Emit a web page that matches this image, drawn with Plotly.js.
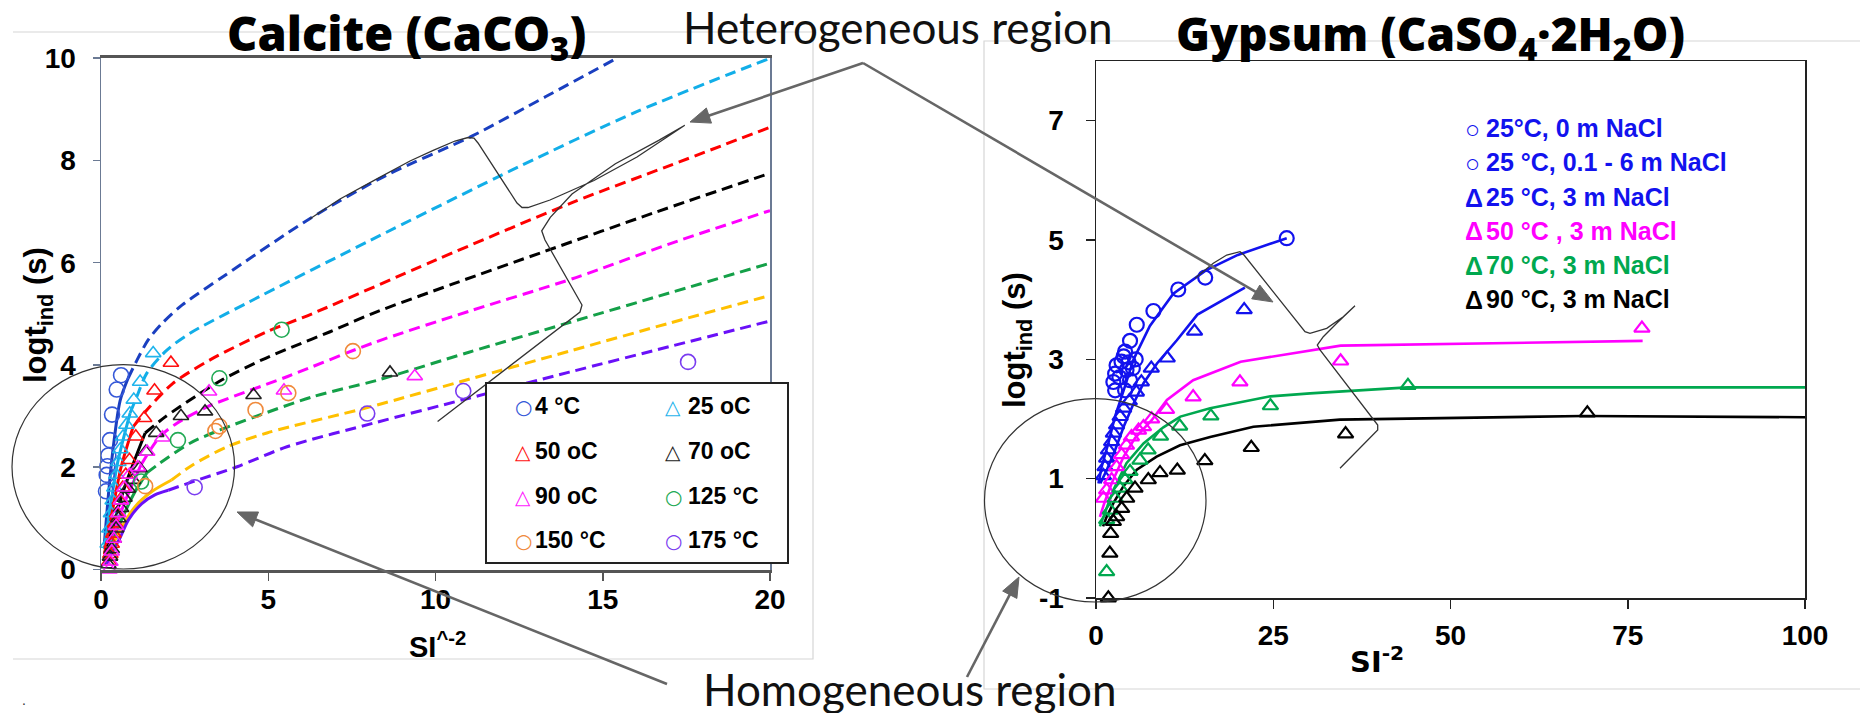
<!DOCTYPE html>
<html><head><meta charset="utf-8">
<script src="https://cdn.plot.ly/plotly-3.0.1.min.js"></script>
<style>html,body{margin:0;padding:0;background:#fff}#chart{width:1860px;height:713px}</style>
</head><body><div id="chart"></div>
<script>
// ---------------- Calcite (left) data ----------------
const calcNames = ['4 °C','25 oC','50 oC','70 oC','90 oC','125 °C','150 °C','175 °C'];
const calcSymbols = ['circle','triangle','triangle','triangle','triangle','circle','circle','circle'];
// measured points
const c4X   = [0.6,0.47,0.33,0.27,0.22,0.19,0.17,0.15];
const c4Y   = [3.8,3.52,3.03,2.53,2.23,2.02,1.85,1.53];
const c25X  = [1.56,1.17,0.98,0.86,0.76,0.66,0.58,0.52,0.46,0.4,0.35,0.3,0.25,0.2];
const c25Y  = [4.23,3.67,3.32,3.05,2.83,2.6,2.35,2.1,1.85,1.6,1.35,1.1,0.8,0.5];
const c50X  = [2.09,1.6,1.29,1.04,0.85,0.74,0.65,0.56,0.48,0.42,0.37,0.32,0.28,0.24];
const c50Y  = [4.04,3.5,2.96,2.6,2.14,1.85,1.6,1.35,1.1,0.9,0.7,0.5,0.3,0.15];
const c70X  = [8.64,4.56,3.11,2.39,1.65,1.34,1.15,0.95,0.8,0.7,0.6,0.52,0.45,0.38,0.32,0.27,0.22];
const c70Y  = [3.85,3.41,3.09,3.0,2.67,2.3,1.98,1.75,1.58,1.4,1.2,1.0,0.8,0.6,0.4,0.25,0.1];
const c90X  = [9.38,5.47,3.23,1.84,1.38,1.1,0.85,0.7,0.6,0.52,0.45,0.38,0.32,0.28,0.25];
const c90Y  = [3.78,3.5,3.48,2.58,2.3,2.0,1.85,1.6,1.35,1.1,0.85,0.6,0.35,0.15,0.0];
const c125X = [5.4,3.54,2.3,1.2];
const c125Y = [4.69,3.74,2.53,1.72];
const c150X = [7.53,5.6,4.62,3.54,3.42,1.32];
const c150Y = [4.27,3.45,3.12,2.8,2.71,1.63];
const c175X = [17.55,10.83,7.96,2.8];
const c175Y = [4.06,3.49,3.05,1.61];
// model curves
const k4X   = [0.1,0.2,0.35,0.57,0.81,1.08,1.41,1.82,2.42,3.7,6.24,8.5,11.07,13.3,15.42];
const k4Y   = [0.5,1.3,2.3,3.3,3.74,4.1,4.49,4.81,5.17,5.75,6.86,7.7,8.47,9.25,10.0];
const k25X  = [0.1,0.25,0.5,0.87,1.07,1.37,1.97,2.66,4.36,8,12.5,16,20];
const k25Y  = [0.4,1.1,2.1,3.06,3.38,3.84,4.29,4.62,5.21,6.42,7.88,8.95,10.0];
const k50X  = [0.1,0.3,0.6,0.96,1.37,2.15,3.26,4.96,6.34,10,14.1,17,20];
const k50Y  = [0.3,1.0,2.0,2.79,3.12,3.64,4.1,4.65,5.01,6.05,7.18,7.9,8.65];
const k70X  = [0.1,0.3,0.7,1.32,1.91,2.81,3.62,4.81,5.71,6.85,8.13,10.5,13.3,16.5,20];
const k70Y  = [0.2,0.7,1.6,2.67,2.98,3.38,3.71,4.1,4.35,4.65,5.01,5.58,6.23,6.97,7.75];
const k90X  = [0.1,0.3,0.7,1.2,1.76,2.27,3.17,5.56,8.13,11,14.2,17,20];
const k90Y  = [0.15,0.55,1.3,2.05,2.6,2.86,3.18,3.77,4.43,5.05,5.71,6.37,7.02];
const k125X = [0.1,0.3,0.6,1.0,1.37,1.76,2.66,3.56,6.34,8.25,11,14,17,20];
const k125Y = [0.1,0.45,0.95,1.5,1.89,2.08,2.47,2.73,3.38,3.7,4.25,4.83,5.41,5.99];
const k150X = [0.2,0.3,0.52,1.02,1.51,2.11,2.75,3.77,4.96,8.04,11,14,17,20];
const k150Y = [0.15,0.4,0.71,1.23,1.52,1.75,2.05,2.4,2.67,3.18,3.72,4.27,4.82,5.36];
const k175X = [0.18,0.3,0.57,0.82,1.22,1.61,2.01,2.75,4.07,5.56,8.13,11,14,17,20];
const k175Y = [0.1,0.3,0.62,0.97,1.29,1.46,1.55,1.72,2.01,2.4,2.86,3.35,3.86,4.36,4.86];
// x where each curve turns from solid (homogeneous) to dashed (heterogeneous)
const kSplit = [0.81,0.87,0.96,1.32,1.2,1.37,2.11,2.01];
const calcXTicks = [0,5,10,15,20];
const calcYTicks = [0,2,4,6,8,10];

// ---------------- Gypsum (right) data ----------------
const gypNames = ['25°C, 0 m NaCl','25 °C, 0.1 - 6 m NaCl','25 °C, 3 m NaCl','50 °C , 3 m NaCl','70 °C, 3 m NaCl','90 °C, 3 m NaCl'];
const gypGlyphs = ['○','○','Δ','Δ','Δ','Δ'];
const gAX  = [26.9,15.4,11.6,8.1,5.75,4.8];
const gAY  = [5.03,4.37,4.17,3.81,3.58,3.31];
const gBX  = [4.1,3.6,2.9,2.7,2.45,2.7,4.3,5.2,4.8,4.1,3.3,5.6,3.9,4.6];
const gBY  = [3.13,2.96,2.9,2.76,2.62,2.48,2.82,2.85,2.65,2.48,2.7,3.0,3.05,2.95];
const g25X = [20.9,13.9,10.05,7.8,6.4,5.7,4.7,3.9,3.4,2.9,2.45,2.2,1.75,1.5,1.27,1.05];
const g25Y = [3.83,3.47,3.02,2.85,2.62,2.45,2.3,2.18,2.04,1.9,1.76,1.62,1.48,1.34,1.2,1.05];
const g50X = [77,34.5,20.3,13.7,9.95,7.85,6.7,6.0,5.0,4.3,3.6,2.9,2.2,1.5,1.05];
const g50Y = [3.52,2.97,2.62,2.37,2.16,2.0,1.87,1.81,1.7,1.56,1.4,1.2,0.98,0.81,0.67];
const g70X = [44,24.6,16.2,11.8,9.1,7.35,6.2,4.8,4.1,3.4,2.7,2.0,1.5,1.5];
const g70Y = [2.56,2.22,2.05,1.88,1.71,1.48,1.31,1.12,0.98,0.84,0.67,0.47,0.31,-0.56];
const g90X = [69.3,35.2,21.9,15.35,11.47,9.03,7.38,5.5,4.33,3.62,2.91,2.45,2.07,1.95,1.74];
const g90Y = [2.1,1.75,1.52,1.3,1.14,1.1,0.98,0.84,0.67,0.5,0.36,0.28,0.08,-0.25,-1.0];
const gLAX = [0.35,0.8,1.75,2.7,3.9,5.3,7.6,10.9,15.5,20,26.9];
const gLAY = [0.92,1.2,1.6,2.05,2.48,3.0,3.56,4.1,4.49,4.75,5.03];
const gLBX = [0.6,1.5,2.7,3.9,5.3,6.7,8.6,11.4,14.3,21];
const gLBY = [0.92,1.14,1.48,1.87,2.26,2.6,2.93,3.32,3.75,4.2];
const gL50X = [0.55,1.2,2.2,3.9,5.5,7.85,10,13.7,20.4,34.5,77.1];
const gL50Y = [0.36,0.6,0.92,1.37,1.68,1.98,2.32,2.65,2.96,3.23,3.31];
const gL70X = [0.55,1.05,2.45,4.3,6.7,9.5,11.9,16.1,24.6,30.2,44,100];
const gL70Y = [0.2,0.36,0.81,1.26,1.59,1.86,2.04,2.18,2.38,2.43,2.53,2.53];
const gL90X = [1.0,1.5,2.45,3.85,5.75,8.55,11.85,16.1,22.2,34.4,68.7,100];
const gL90Y = [0.2,0.36,0.59,0.87,1.15,1.37,1.56,1.7,1.87,1.99,2.05,2.03];
const gypXTicks = [0,25,50,75,100];
const gypYTicks = [-1,1,3,5,7];
const gypYTickText = ['-1','1','3','5','7'];

// ---------------- styling ----------------
const W = 1860, H = 713;
const px = v => v / W, py = v => 1 - v / H;
const ARIAL = 'Liberation Sans, Arial, sans-serif';
const DJ = 'DejaVu Sans, Liberation Sans, sans-serif';
const GILL = 'Lato, Open Sans, sans-serif';
const TITLEF = 'Open Sans, Lato, sans-serif';
const calcMarkerCol = ['#3558d8','#1fb4ec','#ff1010','#222222','#ff20ff','#22aa55','#f08a3c','#7a3cf0'];
const calcLineCol   = ['#1a3fc0','#12aee8','#ff0000','#000000','#ff00ff','#14a048','#ffc000','#6a10f8'];
const gypCol = ['#1212ee','#1212ee','#1212ee','#ff00ff','#00a84f','#000000'];

const calcPts = [[c4X,c4Y],[c25X,c25Y],[c50X,c50Y],[c70X,c70Y],[c90X,c90Y],[c125X,c125Y],[c150X,c150Y],[c175X,c175Y]];
const calcCurves = [[k4X,k4Y],[k25X,k25Y],[k50X,k50Y],[k70X,k70Y],[k90X,k90Y],[k125X,k125Y],[k150X,k150Y],[k175X,k175Y]];

const traces = [];
calcCurves.forEach(([xs, ys], i) => {
  const sx = [], sy = [], dx = [], dy = [];
  xs.forEach((x, j) => {
    if (x <= kSplit[i]) { sx.push(x); sy.push(ys[j]); }
    if (x >= kSplit[i]) { dx.push(x); dy.push(ys[j]); }
  });
  traces.push({x: sx, y: sy, xaxis:'x', yaxis:'y', mode:'lines', line:{color: calcLineCol[i], width:3, shape:'spline', smoothing:0.8}, hoverinfo:'skip', cliponaxis:false});
  traces.push({x: dx, y: dy, xaxis:'x', yaxis:'y', mode:'lines', line:{color: calcLineCol[i], width:3, dash:'11px,6px', shape:'spline', smoothing:0.8}, hoverinfo:'skip'});
});
calcPts.forEach(([xs, ys], i) => {
  traces.push({x: xs, y: ys, xaxis:'x', yaxis:'y', mode:'markers', name: calcNames[i], cliponaxis:false,
    marker:{symbol: calcSymbols[i] === 'circle' ? 'circle-open' : 'triangle-up-open', size: calcSymbols[i] === 'circle' ? 15 : 13.5,
      color: calcMarkerCol[i], line:{width:1.6, color: calcMarkerCol[i]}}});
});

const gypLines = [[gLAX,gLAY,0],[gLBX,gLBY,2],[gL50X,gL50Y,3],[gL70X,gL70Y,4],[gL90X,gL90Y,5]];
gypLines.forEach(([xs, ys, c]) => {
  traces.push({x: xs, y: ys, xaxis:'x2', yaxis:'y2', mode:'lines', line:{color: gypCol[c], width:2.6}, hoverinfo:'skip'});
});
const gypPts = [[gAX,gAY],[gBX,gBY],[g25X,g25Y],[g50X,g50Y],[g70X,g70Y],[g90X,g90Y]];
gypPts.forEach(([xs, ys], i) => {
  const circ = gypGlyphs[i] === '○';
  traces.push({x: xs, y: ys, xaxis:'x2', yaxis:'y2', mode:'markers', name: gypNames[i], cliponaxis:false,
    marker:{symbol: circ ? 'circle-open' : 'triangle-up-open', size: circ ? 14 : 13.5, color: gypCol[i], line:{width:2.2, color: gypCol[i]}}});
});

// ---------------- annotations ----------------
const annotations = [];
function txt(text, x, y, font, extra) {
  annotations.push(Object.assign({text, x: px(x), y: py(y), xref:'paper', yref:'paper', showarrow:false,
    xanchor:'center', yanchor:'middle', font}, extra || {}));
}
// titles
txt('Calcite (CaCO<sub>3</sub>)', 406, 36, {family: TITLEF, size: 47, weight: 800, color:'#000'});
txt('Gypsum (CaSO<sub>4</sub>·2H<sub>2</sub>O)', 1430, 36, {family: TITLEF, size: 46, weight: 800, color:'#000'});
txt('Heterogeneous region', 897, 27, {family: GILL, size: 44, color:'#111'});
txt('Homogeneous region', 910, 689, {family: GILL, size: 44, color:'#111'});
txt('.', 24, 700, {family: ARIAL, size: 14, color:'#333'});
// axis titles
txt('logt<sub>ind</sub> (s)', 38, 315, {family: ARIAL, size: 31, weight:'bold', color:'#000'}, {textangle:-90});
txt('SI<sup>^-2</sup>', 437, 645, {family: ARIAL, size: 29, weight:'bold', color:'#000'});
txt('logt<sub>ind</sub> (s)', 1017, 340, {family: ARIAL, size: 31, weight:'bold', color:'#000'}, {textangle:-90});
txt('SI<sup>-2</sup>', 1377, 660, {family: DJ, size: 29, weight:'bold', color:'#000'});
// left legend
const legRows = [406, 451, 496, 540], legSymX = [523, 673], legTxtX = [533, 686];
calcNames.forEach((n, i) => {
  const r = Math.floor(i / 2), c = i % 2;
  txt(calcSymbols[i] === 'circle' ? '○' : '△', legSymX[c], legRows[r] + 1, {family:'DejaVu Sans', size: 20, color: calcMarkerCol[i]});
  txt(n, legTxtX[c], legRows[r], {family: ARIAL, size: 23, weight:'bold', color:'#000'}, {xanchor:'left'});
});
// right legend (glyph + label, as in the original)
const gLegRows = [128, 162, 196.5, 230.5, 265, 299];
gypNames.forEach((n, i) => {
  txt(gypGlyphs[i], 1463, gLegRows[i] + 1, {family: ARIAL, size: 25, weight:'bold', color: gypCol[i]}, {xanchor:'left'});
  txt(n, 1484, gLegRows[i], {family: ARIAL, size: 25, weight:'bold', color: gypCol[i]}, {xanchor:'left'});
});

// ---------------- shapes ----------------
const shapes = [];
function pline(pts, color, width, fill) {
  shapes.push({type:'path', xref:'paper', yref:'paper', layer:'above',
    path: 'M' + pts.map(p => px(p[0]).toFixed(5) + ',' + py(p[1]).toFixed(5)).join('L') + (fill ? 'Z' : ''),
    line:{color, width}, fillcolor: fill || 'rgba(0,0,0,0)'});
}
function arrowShape(tipX, tipY, tailX, tailY) {
  const dx = tipX - tailX, dy = tipY - tailY, len = Math.hypot(dx, dy);
  const ux = dx / len, uy = dy / len, L = 20, hw = 8;
  const bx = tipX - ux * L, by = tipY - uy * L;
  pline([[tailX, tailY], [bx + ux * 2, by + uy * 2]], '#666', 2.6);
  pline([[tipX, tipY], [bx - uy * hw, by + ux * hw], [bx + uy * hw, by - ux * hw]], '#666', 1, '#666');
}
// light picture frames
pline([[13,32],[813,32],[813,659],[13,659]], '#d6d6d6', 1.2);
pline([[1860,41],[984,41],[984,689],[1860,689]], '#d6d6d6', 1.2);
// homogeneous-region ellipses
shapes.push({type:'circle', xref:'paper', yref:'paper', x0:px(12), x1:px(234.6), y0:py(569), y1:py(364.7), line:{color:'#333', width:1.2}, layer:'above'});
shapes.push({type:'circle', xref:'paper', yref:'paper', x0:px(984.5), x1:px(1206), y0:py(602), y1:py(398.7), line:{color:'#333', width:1.2}, layer:'above'});
// heterogeneous-region braces
pline([[309.7,219],[340,199],[376.9,178.9],[410,161],[433.2,150.4],[455,141],[468,137.5],[474,138],[478,143],[517,203],[522,207.5],[528,207.5],[550,200],[594,180.5],[637,157],[684.8,125.3],
       [658.7,140.4],[615.4,163.8],[572,194],[550.3,217.4],[541.7,230.8],[545,240],[582,305],[580,312],[437.6,421.6]], '#333', 1.3);
pline([[1195,278.3],[1213.3,263.3],[1226.7,255],[1240,251.7],[1244,255],[1305,331.7],[1310,333.3],[1326.7,328.3],[1343.3,316.7],[1355,305.7],
       [1336.7,323.3],[1323.3,336.7],[1317.3,345],[1320,350],[1377.7,425],[1377.7,430],[1340,468.3]], '#333', 1.3);
// arrows
arrowShape(690, 122, 863, 63);
arrowShape(1273, 302, 863, 63);
arrowShape(237, 512, 667, 684);
arrowShape(1019, 577, 967, 677);
// left legend box
shapes.push({type:'rect', xref:'paper', yref:'paper', x0:px(486), x1:px(788), y0:py(563), y1:py(383), fillcolor:'#fff', line:{color:'#222', width:2}, layer:'above'});

const tickFont = {family: ARIAL, size: 28, weight:'bold', color:'#000'};
const layout = {
  width: W, height: H, margin:{l:0, r:0, t:0, b:0}, paper_bgcolor:'#fff', plot_bgcolor:'rgba(0,0,0,0)',
  showlegend:false, font:{family: ARIAL, color:'#000'},
  xaxis:{domain:[px(101), px(770)], range:[0,20], anchor:'y', tickmode:'array', tickvals: calcXTicks,
    ticks:'outside', ticklen:8, tickwidth:1.5, tickcolor:'#555', showline:true, linecolor:'#555', linewidth:3, mirror:true,
    showgrid:false, zeroline:false, tickfont: tickFont, ticklabelstandoff: -5},
  yaxis:{domain:[py(569.5), py(58.2)], range:[0,10], anchor:'x', tickmode:'array', tickvals: calcYTicks,
    ticks:'outside', ticklen:7, tickwidth:1.5, tickcolor:'#6b7a94', showline:true, linecolor:'#6b7a94', linewidth:1.5, mirror:true,
    showgrid:false, zeroline:false, tickfont: tickFont, ticklabelstandoff: 11},
  xaxis2:{domain:[px(1096), px(1805)], range:[0,100], anchor:'y2', tickmode:'array', tickvals: gypXTicks,
    ticks:'outside', ticklen:9, tickwidth:1.5, tickcolor:'#222', showline:true, linecolor:'#222', linewidth:1.5, mirror:true,
    showgrid:false, zeroline:false, tickfont: tickFont, ticklabelstandoff: 3},
  yaxis2:{domain:[py(598), py(61)], range:[-1,8], anchor:'x2', tickmode:'array', tickvals: gypYTicks, ticktext: gypYTickText,
    ticks:'outside', ticklen:9, tickwidth:1.5, tickcolor:'#222', showline:true, linecolor:'#222', linewidth:1.5, mirror:true,
    showgrid:false, zeroline:false, tickfont: tickFont, ticklabelstandoff: 16},
  annotations, shapes
};
Plotly.newPlot('chart', traces, layout, {staticPlot:true, displayModeBar:false});
</script>
</body></html>
